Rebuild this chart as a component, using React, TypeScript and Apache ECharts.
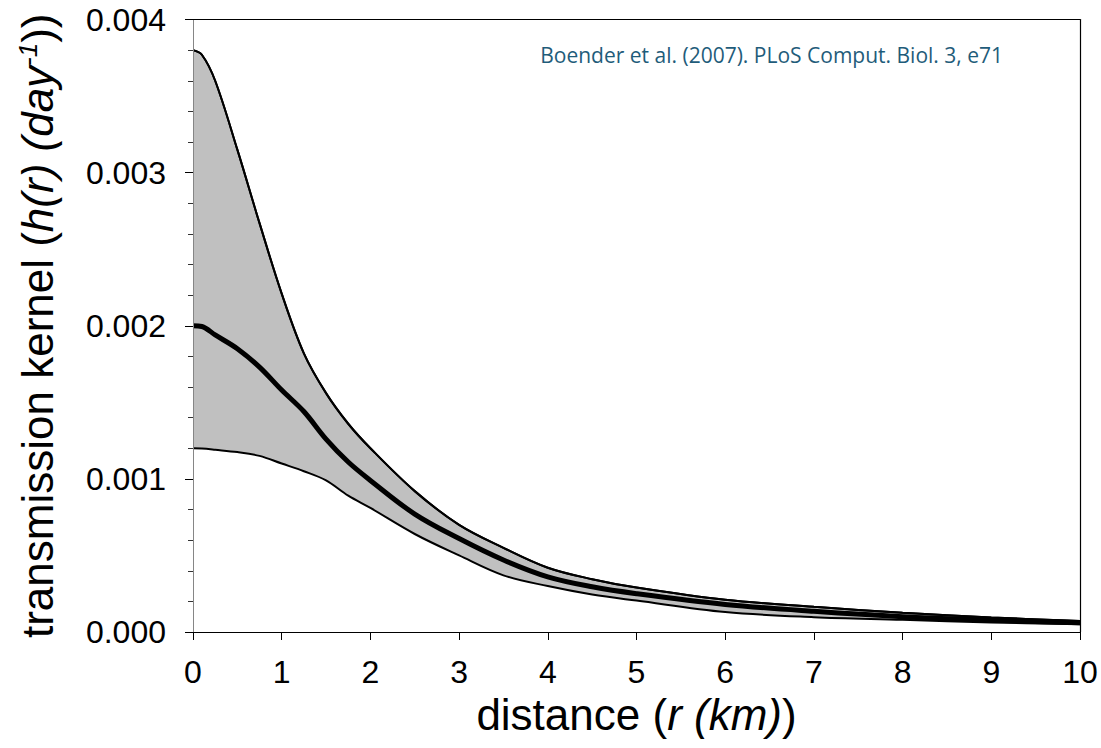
import React, { useEffect, useRef } from "react";
import * as echarts from "echarts";

// distance r (km)
const distance = [0, 0.1, 0.25, 0.5, 0.75, 1.0, 1.25, 1.5, 1.75, 2.0, 2.5, 3.0, 3.5, 4.0, 4.5, 5.0, 6.0, 7.0, 8.0, 9.0, 10.0];
// upper bound of transmission kernel (day^-1)
const upper = [0.0038, 0.00377, 0.0036, 0.00315, 0.00267, 0.00221, 0.00182, 0.00156, 0.00136, 0.0012, 0.00092, 0.0007, 0.00055, 0.00042, 0.000345, 0.00029, 0.00021, 0.000165, 0.000125, 0.000095, 0.000072];
// central estimate
const central = [0.002, 0.001995, 0.00194, 0.00185, 0.00173, 0.00158, 0.00144, 0.00126, 0.00111, 0.00099, 0.00077, 0.00061, 0.00047, 0.00036, 0.000295, 0.00025, 0.00018, 0.000135, 0.0001, 0.000078, 0.00006];
// lower bound
const lower = [0.0012, 0.001198, 0.00119, 0.001175, 0.00115, 0.0011, 0.00105, 0.00099, 0.00089, 0.00081, 0.00064, 0.0005, 0.00037, 0.0003, 0.000245, 0.000205, 0.00013, 0.000097, 0.00008, 0.000062, 0.00005];

const citation = "Boender et al. (2007). PLoS Comput. Biol. 3, e71";

const FONT = "'Liberation Sans', Arial, sans-serif";
const SMOOTH = 0.35;

export default function App() {
  const ref = useRef<HTMLDivElement>(null);
  useEffect(() => {
    if (!ref.current) return;
    const chart = echarts.init(ref.current, null, { renderer: "svg" });
    const pairs = (arr: number[]) => distance.map((r, i) => [r, arr[i]]);
    const rich = {
      n: { fontSize: 44, fontFamily: FONT, color: "#000" },
      i: { fontSize: 44, fontFamily: FONT, color: "#000", fontStyle: "italic" },
      sup: { fontSize: 26, fontFamily: FONT, color: "#000", fontStyle: "italic", verticalAlign: "top" },
    };
    const lineBase = {
      type: "line",
      symbol: "none",
      smooth: SMOOTH,
      silent: true,
    };
    chart.setOption({
      animation: false,
      grid: { left: 193, right: 21, top: 19.5, bottom: 116, containLabel: false },
      xAxis: [
        {
          type: "value",
          min: 0,
          max: 10,
          interval: 1,
          z: 10,
          axisLine: { show: true, onZero: false, lineStyle: { color: "#000", width: 1.2 } },
          axisTick: { show: true, length: 8, lineStyle: { color: "#000", width: 1 } },
          axisLabel: { fontSize: 32, color: "#000", fontFamily: FONT, margin: 24 },
          splitLine: { show: false },
          name: "{n|distance (}{i|r (km)}{n|)}",
          nameLocation: "middle",
          nameGap: 57,
          nameTextStyle: { fontSize: 44, fontFamily: FONT, color: "#000", rich },
        },
        {
          type: "value",
          position: "top",
          min: 0,
          max: 10,
          z: 10,
          axisLine: { show: true, onZero: false, lineStyle: { color: "#000", width: 1 } },
          axisTick: { show: false },
          axisLabel: { show: false },
          splitLine: { show: false },
        },
      ],
      yAxis: [
        {
          type: "value",
          min: 0,
          max: 0.004,
          interval: 0.001,
          z: 10,
          axisLine: { show: true, onZero: false, lineStyle: { color: "#868686", width: 1 } },
          axisTick: { show: true, length: 8, lineStyle: { color: "#000", width: 1 } },
          minorTick: { show: true, splitNumber: 5, length: 5, lineStyle: { color: "#333", width: 1 } },
          axisLabel: {
            fontSize: 32,
            color: "#000",
            fontFamily: FONT,
            margin: 27,
            formatter: (v: number) => v.toFixed(3),
          },
          splitLine: { show: false },
          minorSplitLine: { show: false },
          name: "{n|transmission kernel (}{i|h(r) (day}{sup|-1}{n|))}",
          nameLocation: "middle",
          nameRotate: 90,
          nameGap: 134,
          nameTextStyle: { fontSize: 44, fontFamily: FONT, color: "#000", rich },
        },
        {
          type: "value",
          position: "right",
          min: 0,
          max: 0.004,
          z: 10,
          axisLine: { show: true, onZero: false, lineStyle: { color: "#000", width: 1.2 } },
          axisTick: { show: false },
          axisLabel: { show: false },
          splitLine: { show: false },
        },
      ],
      series: [
        {
          ...lineBase,
          data: pairs(upper),
          lineStyle: { color: "#000", width: 2 },
          areaStyle: { color: "#C0C0C0", opacity: 1, origin: "start" },
          z: 1,
        },
        {
          ...lineBase,
          data: pairs(lower),
          lineStyle: { color: "#000", width: 2 },
          areaStyle: { color: "#FFFFFF", opacity: 1, origin: "start" },
          z: 2,
        },
        {
          ...lineBase,
          data: pairs(upper),
          lineStyle: { color: "#000", width: 2 },
          z: 3,
        },
        {
          ...lineBase,
          data: pairs(central),
          lineStyle: { color: "#000", width: 5 },
          z: 4,
        },
      ],
      graphic: [
        {
          type: "text",
          x: 1003,
          y: 55,
          style: {
            text: citation,
            align: "right",
            verticalAlign: "middle",
            fill: "#1F5C7A",
            fontSize: 21,
            fontFamily: "'Open Sans', sans-serif",
          },
        },
      ],
    });
    return () => chart.dispose();
  }, []);
  return (
    <div
      ref={ref}
      style={{ position: "fixed", left: 0, top: 0, width: 1101, height: 748, background: "#fff" }}
    />
  );
}
